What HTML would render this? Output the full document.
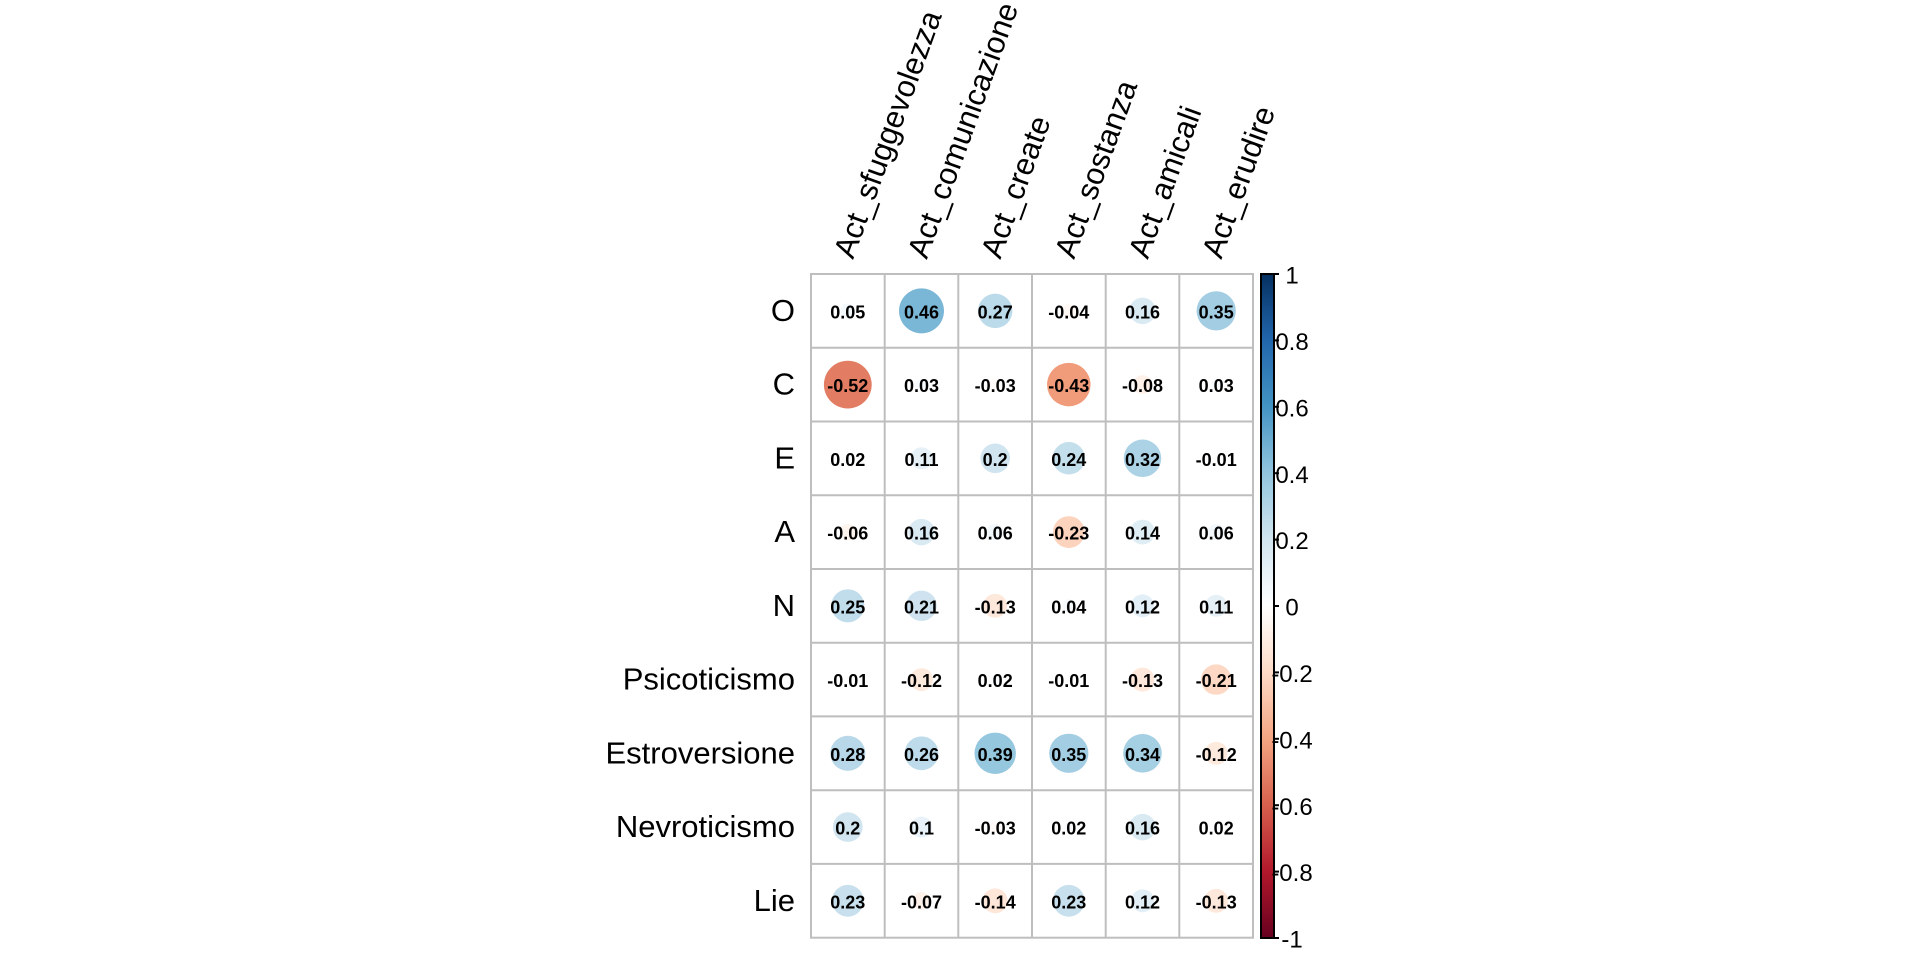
<!DOCTYPE html>
<html>
<head>
<meta charset="utf-8">
<style>
  html, body { margin:0; padding:0; background:#ffffff; }
  body { width:1920px; height:960px; overflow:hidden; }
  svg { display:block; }
  .lab { font-family:"Liberation Sans", Arial, sans-serif; font-size:31px; fill:#000; }
  .num { font-family:"Liberation Sans", Arial, sans-serif; font-size:18px; font-weight:bold; fill:#000; text-anchor:middle; }
  .cb { font-family:"Liberation Sans", Arial, sans-serif; font-size:24px; fill:#000; text-anchor:middle; }
</style>
</head>
<body>
<svg width="1920" height="960" viewBox="0 0 1920 960" xmlns="http://www.w3.org/2000/svg">
  <defs>
    <linearGradient id="g" x1="0" y1="0" x2="0" y2="1">
      <stop offset="0" stop-color="#053061"/>
      <stop offset="0.1" stop-color="#2166AC"/>
      <stop offset="0.2" stop-color="#4393C3"/>
      <stop offset="0.3" stop-color="#92C5DE"/>
      <stop offset="0.4" stop-color="#D1E5F0"/>
      <stop offset="0.5" stop-color="#FFFFFF"/>
      <stop offset="0.6" stop-color="#FDDBC7"/>
      <stop offset="0.7" stop-color="#F4A582"/>
      <stop offset="0.8" stop-color="#D6604D"/>
      <stop offset="0.9" stop-color="#B2182B"/>
      <stop offset="1" stop-color="#67001F"/>
    </linearGradient>
  </defs>
  <rect width="1920" height="960" fill="#fff"/>

  <!-- grid -->
  <g stroke="#BEBEBE" stroke-width="2" fill="none">
    <rect x="811" y="274" width="442" height="663.7"/>
    <line x1="884.7" y1="274" x2="884.7" y2="937.7"/>
    <line x1="958.3" y1="274" x2="958.3" y2="937.7"/>
    <line x1="1032" y1="274" x2="1032" y2="937.7"/>
    <line x1="1105.7" y1="274" x2="1105.7" y2="937.7"/>
    <line x1="1179.3" y1="274" x2="1179.3" y2="937.7"/>
    <line x1="811" y1="347.7" x2="1253" y2="347.7"/>
    <line x1="811" y1="421.5" x2="1253" y2="421.5"/>
    <line x1="811" y1="495.2" x2="1253" y2="495.2"/>
    <line x1="811" y1="569" x2="1253" y2="569"/>
    <line x1="811" y1="642.7" x2="1253" y2="642.7"/>
    <line x1="811" y1="716.4" x2="1253" y2="716.4"/>
    <line x1="811" y1="790.2" x2="1253" y2="790.2"/>
    <line x1="811" y1="863.9" x2="1253" y2="863.9"/>
  </g>

  <!-- circles -->
  <g>
    <!-- row O y=310.9 -->
    <circle cx="847.8" cy="310.9" r="7.41" fill="rgb(244,249,251)"/>
    <circle cx="921.5" cy="310.9" r="22.48" fill="rgb(122,182,214)"/>
    <circle cx="995.2" cy="310.9" r="17.22" fill="rgb(187,218,234)"/>
    <circle cx="1068.8" cy="310.9" r="6.63" fill="rgb(255,248,244)"/>
    <circle cx="1142.5" cy="310.9" r="13.26" fill="rgb(218,234,243)"/>
    <circle cx="1216.2" cy="310.9" r="19.61" fill="rgb(162,205,227)"/>
    <!-- row C y=384.6 -->
    <circle cx="847.8" cy="384.6" r="23.9" fill="rgb(226,124,98)"/>
    <circle cx="921.5" cy="384.6" r="5.74" fill="rgb(248,251,253)"/>
    <circle cx="995.2" cy="384.6" r="5.74" fill="rgb(255,250,247)"/>
    <circle cx="1068.8" cy="384.6" r="21.74" fill="rgb(240,155,122)"/>
    <circle cx="1142.5" cy="384.6" r="9.38" fill="rgb(254,241,233)"/>
    <circle cx="1216.2" cy="384.6" r="5.74" fill="rgb(248,251,253)"/>
    <!-- row E y=458.3 -->
    <circle cx="847.8" cy="458.3" r="4.69" fill="rgb(250,252,254)"/>
    <circle cx="921.5" cy="458.3" r="10.99" fill="rgb(230,241,247)"/>
    <circle cx="995.2" cy="458.3" r="14.83" fill="rgb(209,229,240)"/>
    <circle cx="1068.8" cy="458.3" r="16.24" fill="rgb(196,223,236)"/>
    <circle cx="1142.5" cy="458.3" r="18.75" fill="rgb(171,210,229)"/>
    <circle cx="1216.2" cy="458.3" r="3.32" fill="rgb(255,253,252)"/>
    <!-- row A y=532.1 -->
    <circle cx="847.8" cy="532.1" r="8.12" fill="rgb(254,244,238)"/>
    <circle cx="921.5" cy="532.1" r="13.26" fill="rgb(218,234,243)"/>
    <circle cx="995.2" cy="532.1" r="8.12" fill="rgb(241,247,251)"/>
    <circle cx="1068.8" cy="532.1" r="15.9" fill="rgb(252,211,189)"/>
    <circle cx="1142.5" cy="532.1" r="12.4" fill="rgb(223,237,245)"/>
    <circle cx="1216.2" cy="532.1" r="8.12" fill="rgb(241,247,251)"/>
    <!-- row N y=605.8 -->
    <circle cx="847.8" cy="605.8" r="16.58" fill="rgb(193,221,236)"/>
    <circle cx="921.5" cy="605.8" r="15.19" fill="rgb(206,227,239)"/>
    <circle cx="995.2" cy="605.8" r="11.95" fill="rgb(254,232,219)"/>
    <circle cx="1068.8" cy="605.8" r="6.63" fill="rgb(246,250,252)"/>
    <circle cx="1142.5" cy="605.8" r="11.48" fill="rgb(227,239,246)"/>
    <circle cx="1216.2" cy="605.8" r="10.99" fill="rgb(230,241,247)"/>
    <!-- row Psicoticismo y=679.6 -->
    <circle cx="847.8" cy="679.6" r="3.32" fill="rgb(255,253,252)"/>
    <circle cx="921.5" cy="679.6" r="11.48" fill="rgb(254,233,221)"/>
    <circle cx="995.2" cy="679.6" r="4.69" fill="rgb(250,252,254)"/>
    <circle cx="1068.8" cy="679.6" r="3.32" fill="rgb(255,253,252)"/>
    <circle cx="1142.5" cy="679.6" r="11.95" fill="rgb(254,232,219)"/>
    <circle cx="1216.2" cy="679.6" r="15.19" fill="rgb(253,216,196)"/>
    <!-- row Estroversione y=753.3 -->
    <circle cx="847.8" cy="753.3" r="17.54" fill="rgb(184,216,233)"/>
    <circle cx="921.5" cy="753.3" r="16.9" fill="rgb(190,219,235)"/>
    <circle cx="995.2" cy="753.3" r="20.7" fill="rgb(149,199,223)"/>
    <circle cx="1068.8" cy="753.3" r="19.61" fill="rgb(162,205,227)"/>
    <circle cx="1142.5" cy="753.3" r="19.33" fill="rgb(165,207,227)"/>
    <circle cx="1216.2" cy="753.3" r="11.48" fill="rgb(254,233,221)"/>
    <!-- row Nevroticismo y=827.1 -->
    <circle cx="847.8" cy="827.1" r="14.83" fill="rgb(209,229,240)"/>
    <circle cx="921.5" cy="827.1" r="10.48" fill="rgb(232,242,248)"/>
    <circle cx="995.2" cy="827.1" r="5.74" fill="rgb(255,250,247)"/>
    <circle cx="1068.8" cy="827.1" r="4.69" fill="rgb(250,252,254)"/>
    <circle cx="1142.5" cy="827.1" r="13.26" fill="rgb(218,234,243)"/>
    <circle cx="1216.2" cy="827.1" r="4.69" fill="rgb(250,252,254)"/>
    <!-- row Lie y=900.8 -->
    <circle cx="847.8" cy="900.8" r="15.9" fill="rgb(200,224,237)"/>
    <circle cx="921.5" cy="900.8" r="8.77" fill="rgb(254,242,235)"/>
    <circle cx="995.2" cy="900.8" r="12.4" fill="rgb(254,230,216)"/>
    <circle cx="1068.8" cy="900.8" r="15.9" fill="rgb(200,224,237)"/>
    <circle cx="1142.5" cy="900.8" r="11.48" fill="rgb(227,239,246)"/>
    <circle cx="1216.2" cy="900.8" r="11.95" fill="rgb(254,232,219)"/>
  </g>

  <!-- numbers -->
  <g class="num">
    <text class="num" x="847.8" y="318.4">0.05</text>
    <text class="num" x="921.5" y="318.4">0.46</text>
    <text class="num" x="995.2" y="318.4">0.27</text>
    <text class="num" x="1068.8" y="318.4">-0.04</text>
    <text class="num" x="1142.5" y="318.4">0.16</text>
    <text class="num" x="1216.2" y="318.4">0.35</text>

    <text class="num" x="847.8" y="392.1">-0.52</text>
    <text class="num" x="921.5" y="392.1">0.03</text>
    <text class="num" x="995.2" y="392.1">-0.03</text>
    <text class="num" x="1068.8" y="392.1">-0.43</text>
    <text class="num" x="1142.5" y="392.1">-0.08</text>
    <text class="num" x="1216.2" y="392.1">0.03</text>

    <text class="num" x="847.8" y="465.8">0.02</text>
    <text class="num" x="921.5" y="465.8">0.11</text>
    <text class="num" x="995.2" y="465.8">0.2</text>
    <text class="num" x="1068.8" y="465.8">0.24</text>
    <text class="num" x="1142.5" y="465.8">0.32</text>
    <text class="num" x="1216.2" y="465.8">-0.01</text>

    <text class="num" x="847.8" y="539.6">-0.06</text>
    <text class="num" x="921.5" y="539.6">0.16</text>
    <text class="num" x="995.2" y="539.6">0.06</text>
    <text class="num" x="1068.8" y="539.6">-0.23</text>
    <text class="num" x="1142.5" y="539.6">0.14</text>
    <text class="num" x="1216.2" y="539.6">0.06</text>

    <text class="num" x="847.8" y="613.3">0.25</text>
    <text class="num" x="921.5" y="613.3">0.21</text>
    <text class="num" x="995.2" y="613.3">-0.13</text>
    <text class="num" x="1068.8" y="613.3">0.04</text>
    <text class="num" x="1142.5" y="613.3">0.12</text>
    <text class="num" x="1216.2" y="613.3">0.11</text>

    <text class="num" x="847.8" y="687.1">-0.01</text>
    <text class="num" x="921.5" y="687.1">-0.12</text>
    <text class="num" x="995.2" y="687.1">0.02</text>
    <text class="num" x="1068.8" y="687.1">-0.01</text>
    <text class="num" x="1142.5" y="687.1">-0.13</text>
    <text class="num" x="1216.2" y="687.1">-0.21</text>

    <text class="num" x="847.8" y="760.8">0.28</text>
    <text class="num" x="921.5" y="760.8">0.26</text>
    <text class="num" x="995.2" y="760.8">0.39</text>
    <text class="num" x="1068.8" y="760.8">0.35</text>
    <text class="num" x="1142.5" y="760.8">0.34</text>
    <text class="num" x="1216.2" y="760.8">-0.12</text>

    <text class="num" x="847.8" y="834.6">0.2</text>
    <text class="num" x="921.5" y="834.6">0.1</text>
    <text class="num" x="995.2" y="834.6">-0.03</text>
    <text class="num" x="1068.8" y="834.6">0.02</text>
    <text class="num" x="1142.5" y="834.6">0.16</text>
    <text class="num" x="1216.2" y="834.6">0.02</text>

    <text class="num" x="847.8" y="908.3">0.23</text>
    <text class="num" x="921.5" y="908.3">-0.07</text>
    <text class="num" x="995.2" y="908.3">-0.14</text>
    <text class="num" x="1068.8" y="908.3">0.23</text>
    <text class="num" x="1142.5" y="908.3">0.12</text>
    <text class="num" x="1216.2" y="908.3">-0.13</text>
  </g>

  <!-- row labels -->
  <g class="lab" text-anchor="end">
    <text class="lab" x="795" y="320.9" text-anchor="end">O</text>
    <text class="lab" x="795" y="394.6" text-anchor="end">C</text>
    <text class="lab" x="795" y="468.3" text-anchor="end">E</text>
    <text class="lab" x="795" y="542.1" text-anchor="end">A</text>
    <text class="lab" x="795" y="615.8" text-anchor="end">N</text>
    <text class="lab" x="795" y="689.6" text-anchor="end">Psicoticismo</text>
    <text class="lab" x="795" y="763.3" text-anchor="end">Estroversione</text>
    <text class="lab" x="795" y="837.1" text-anchor="end">Nevroticismo</text>
    <text class="lab" x="795" y="910.8" text-anchor="end">Lie</text>
  </g>

  <!-- column labels -->
  <g class="lab">
    <text class="lab" transform="translate(853,260) rotate(-70)">Act_sfuggevolezza</text>
    <text class="lab" transform="translate(926.7,260) rotate(-70)">Act_comunicazione</text>
    <text class="lab" transform="translate(1000.3,260) rotate(-70)">Act_create</text>
    <text class="lab" transform="translate(1074,260) rotate(-70)">Act_sostanza</text>
    <text class="lab" transform="translate(1147.7,260) rotate(-70)">Act_amicali</text>
    <text class="lab" transform="translate(1221.3,260) rotate(-70)">Act_erudire</text>
  </g>

  <!-- colorbar -->
  <rect x="1261" y="274" width="13" height="664" fill="url(#g)" stroke="#000" stroke-width="2"/>
  <g stroke="#000" stroke-width="2">
    <line x1="1274" y1="274" x2="1279" y2="274"/>
    <line x1="1274" y1="340.4" x2="1279" y2="340.4"/>
    <line x1="1274" y1="406.8" x2="1279" y2="406.8"/>
    <line x1="1274" y1="473.2" x2="1279" y2="473.2"/>
    <line x1="1274" y1="539.6" x2="1279" y2="539.6"/>
    <line x1="1274" y1="606" x2="1279" y2="606"/>
    <line x1="1274" y1="672.4" x2="1279" y2="672.4"/>
    <line x1="1274" y1="738.8" x2="1279" y2="738.8"/>
    <line x1="1274" y1="805.2" x2="1279" y2="805.2"/>
    <line x1="1274" y1="871.6" x2="1279" y2="871.6"/>
    <line x1="1274" y1="938" x2="1279" y2="938"/>
  </g>
  <g class="cb">
    <text class="cb" x="1292" y="283.6">1</text>
    <text class="cb" x="1292" y="350">0.8</text>
    <text class="cb" x="1292" y="416.4">0.6</text>
    <text class="cb" x="1292" y="482.8">0.4</text>
    <text class="cb" x="1292" y="549.2">0.2</text>
    <text class="cb" x="1292" y="615.6">0</text>
    <text class="cb" x="1292" y="682">-0.2</text>
    <text class="cb" x="1292" y="748.4">-0.4</text>
    <text class="cb" x="1292" y="814.8">-0.6</text>
    <text class="cb" x="1292" y="881.2">-0.8</text>
    <text class="cb" x="1292" y="947.6">-1</text>
  </g>
</svg>
</body>
</html>
